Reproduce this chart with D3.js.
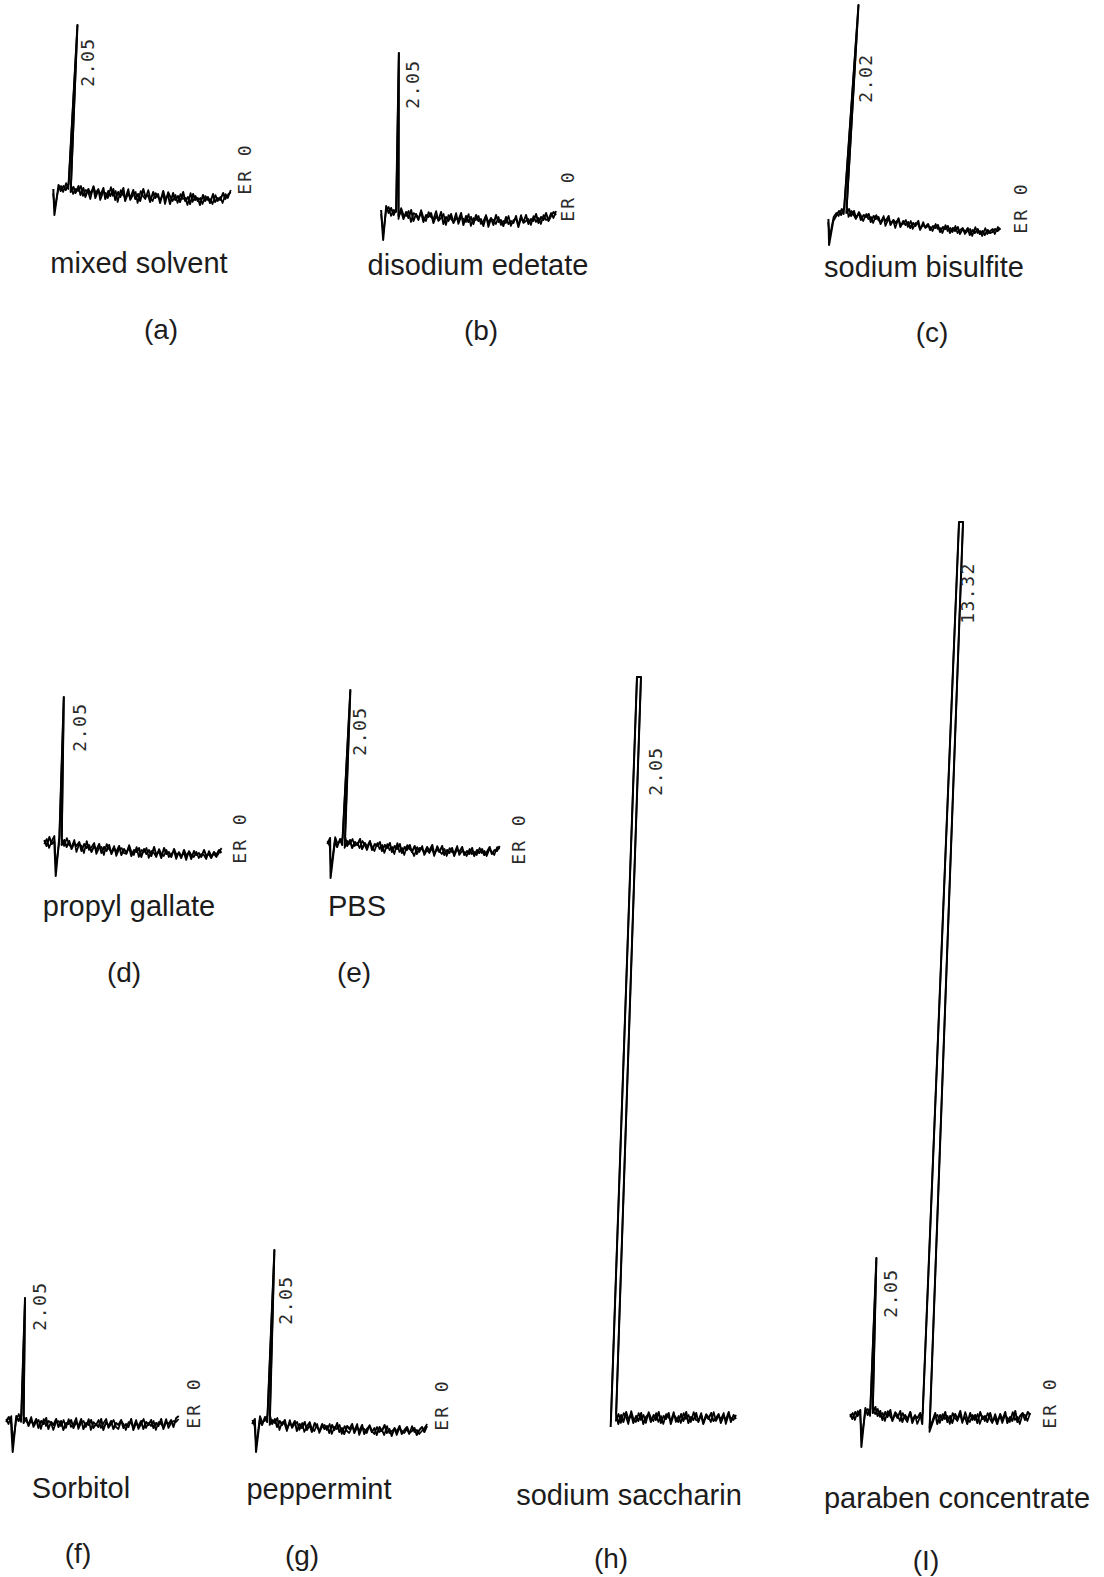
<!DOCTYPE html>
<html><head><meta charset="utf-8">
<script src="https://cdn.jsdelivr.net/npm/d3@7"></script>
<style>html,body{margin:0;padding:0;background:#fff}</style>
</head><body>
<svg id="chart" width="1104" height="1577"></svg>
<script>
// ---------- DATA ----------
const sampleNames = ["mixed solvent","disodium edetate","sodium bisulfite","propyl gallate","PBS","Sorbitol","peppermint","sodium saccharin","paraben concentrate"];
const panelLetters = ["(a)","(b)","(c)","(d)","(e)","(f)","(g)","(h)","(I)"];
const startTimes = [-1,-1,-1,-1,-1,-1,-1,1.5,-2];   // min
const timeStep = 0.5;                                 // min between baseline samples
const endLabel = "ER 0";
const hasEndLabel = [true,true,true,true,true,true,true,false,true];

// detector signal, run 1 (arbitrary units)
const baselineA = [6,-20,10,4,9,5,11,3,8,2, 9,0,7,-2,6,1,8,-3,5,0, 7,-4,4,-1,6,-5,3,-2,7,-6, 2,-3,5,-4,1,-6,6,-2,0,-7, 3,-3,1,-8,4,-4,0,-9,2,-5, -1,-7,3,-6,-2,-9,1,-5,-3,-10, 0,-6,-2,-8,1,-7,-3,-5,2,-4, 0,3];
const baselineB = [8,-22,12,5,10,3,9,2,7,-1, 6,0,8,-3,4,-1,6,-4,3,1, 5,-5,2,-2,6,-6,1,-3,4,-5, 0,-2,5,-7,2,-4,1,-6,3,-3, -1,-8,2,-5,0,-7,3,-4,-2,-8, 1,-6,-3,-5,2,-9,0,-4,3,-6, -1,-3,4,-5,1,-2,5,-3,2,6, 3];
const baselineC = [6,-20,4,9,14,10,18,12,16,9, 14,7,12,5,10,8,11,3,9,6, 8,1,7,4,9,0,5,2,6,-2, 4,0,3,-3,2,-1,4,-4,0,-2, 1,-5,-1,-3,0,-7,-2,-4,-1,-8, -3,-6,-2,-9,-4,-7,-3,-10,-5,-8, -4,-9,-6,-10,-5,-8,-7,-4,-6,-3];
const baselineD = [10,4,13,6,9,-26,14,5,10,3, 9,1,7,4,8,-1,6,2,5,-2, 4,0,6,-3,3,-1,5,-4,2,-2, 4,-5,1,-3,3,-6,0,-2,2,-7, 1,-4,0,-6,3,-5,-1,-8,2,-4, -2,-7,1,-5,-3,-8,0,-6,-2,-9, -1,-5,-3,-7,0,-6,-4,-8,-2,-5, 0,-3];
const baselineE = [6,12,-28,9,3,11,5,13,4,10, 2,8,5,11,1,7,3,9,0,6, 4,8,-1,5,2,7,-2,4,1,6, -3,3,0,5,-2,4,-4,2,1,-3, 3,-1,5,-4,1,-2,4,-5,0,-3, 2,-6,1,-2,3,-5,-1,-4,2,-6, 0,-3,1,-5,-2,3,-4,0,-1,4];
const baselineF = [3,8,2,-27,9,4,10,2,7,-1, 5,0,6,-3,4,1,7,-4,3,0, 6,-2,4,-5,2,1,5,-3,3,-1, 6,-4,2,0,5,-3,1,-2,6,-5, 3,-1,4,-4,2,0,5,-3,1,-2, 6,-5,2,-1,4,-4,3,0,5,-3, 2,-1,6,-4,3,1,5,-2,7,9];
const baselineG = [4,9,-24,8,3,11,6,12,4,9, 1,7,3,8,-1,5,2,7,-3,4, 0,6,-2,3,-4,5,1,-3,4,-1, 2,-5,3,-2,5,-4,0,-6,2,-1, 4,-5,1,-3,3,-6,-1,2,-4,0, -7,1,-3,3,-5,-1,-8,0,-4,2, -6,-2,1,-5,-3,0,-7,-2,1,-4, 2];
const baselineH = [-9,0,5,-6,3,-4,6,-2,4,-5, 2,-3,5,-6,1,4,-4,3,-2,6, -5,2,-1,5,-6,3,0,-4,4,-3, 6,-5,1,-2,5,-4,3,-6,2,-1, 5,-3,0,4,-5,2,-2,6,-4,3, -1];
const baselineI = [4,-1,6,2,8,-29,10,3,9,5, 11,2,7,-2,6,1,8,-3,4,0, 7,-4,3,-1,6,-5,2,0,5,-6, 0,0,-10,-3,5,-6,3,-2,6,-4, 2,-5,4,-1,7,-3,1,-6,5,-2, 3,-5,6,-1,2,-4,5,-3,0,-6, 4,-2,6,-5,1,-3,7,-4,2,5, -2,6,3];

// detector signal, run 2 (overlaid trace)
const replicateA = [2,-14,6,9,3,12,6,10,1,6, 4,9,-1,5,3,-4,9,2,6,-5, 3,2,-3,8,-1,4,-7,5,0,-3, 6,-5,0,3,-8,4,-1,-4,5,-3, -6,2,-2,-5,1,-9,3,-2,-6,0, -8,1,-4,-3,-10,2,-7,-1,-6,-3, -9,-1,-5,-4,-9,0,-6,-2,-8,1, -3,5];
const replicateB = [4,-16,8,11,2,8,6,-1,10,3, 2,7,-4,5,3,-2,8,0,-3,6, 1,-1,7,-3,0,4,-7,3,-1,-4, 5,-6,1,-1,-4,4,-8,0,-2,2, -6,-3,3,-9,-1,-2,-6,1,-7,-3, -5,2,-8,-2,-1,-7,3,-5,-3,-1, -7,2,-4,0,-6,3,-2,-1,5,0, 7];
const replicateC = [3,-12,8,12,9,16,11,19,8,14, 10,6,13,9,4,11,6,8,2,10, 5,3,9,-1,6,2,4,-3,7,0, 1,5,-2,4,-4,2,1,-5,3,-3, -1,-2,-6,1,-4,-3,-8,0,-6,-3, -7,-1,-8,-5,-3,-9,-6,-4,-11,-2, -8,-6,-11,-3,-9,-6,-4,-9,-2,-5];
const replicateD = [6,11,2,9,14,-18,8,11,4,12, 5,3,10,-2,6,4,-3,9,0,3, 7,-4,2,3,-5,6,1,-2,4,-6, 1,2,-3,-4,5,-2,-5,3,-7,0, -2,2,-8,-1,-3,-7,1,-4,-6,0, -7,-4,-1,-9,-2,-6,-3,-10,-1,-5, -7,-2,-8,-4,-5,-9,-1,-6,-4,-7, -3,2];
const replicateE = [9,4,-20,13,7,8,12,2,9,6, 11,4,7,2,9,5,0,8,3,-1, 7,1,5,-3,6,0,3,-4,7,-2, 2,-5,5,1,-1,-6,3,-2,4,-5, 0,-3,2,-6,4,-1,-4,1,-6,2, -2,-3,4,-5,-1,-2,-6,1,-4,-2, -5,2,-3,-1,-6,1,-2,-5,3,1];
const replicateF = [6,1,9,-18,5,11,3,8,4,1, 8,-2,3,5,-4,6,-1,4,2,-5, 3,4,-1,5,-3,6,-2,1,7,-4, 2,4,-2,6,-5,3,0,5,-3,2, 6,-3,1,5,-2,-4,4,1,-5,3, 2,-2,5,-4,1,6,-3,2,-1,4, -5,3,1,-2,6,-3,2,4,3,6];
const replicateG = [8,2,-18,12,6,7,13,3,8,5, 10,-2,6,4,-3,8,0,4,6,-2, 5,-4,2,6,-1,-3,4,-5,1,3, -2,4,-6,1,-1,3,-6,2,-3,-5, 1,-2,4,-7,0,-1,-5,3,-3,-6, 1,-4,-2,-7,2,-5,-3,-1,-7,0, -3,-5,-1,-6,2,-4,-2,-6,-3,0, 4];
const replicateH = [-4,0,-3,4,-5,5,1,-6,7,-1, -4,5,-2,3,-5,6,0,-3,5,-4, 2,-6,4,1,-3,6,-4,2,-5,5, -1,3,-4,6,-2,-3,5,-5,4,1, -4,6,-3,2,-1,5,-6,3,0,-2, 3];
const replicateI = [1,5,-2,7,3,-20,6,9,2,8, 4,9,1,5,-3,7,2,-2,6,3, -3,5,0,-4,6,-2,3,-6,1,4, 0,0,-14,-6,2,3,-5,4,-1,2, -6,5,0,-3,4,-5,6,-1,-4,3, -2,4,-6,2,-3,5,-1,-5,4,-3, 2,-5,3,0,-4,6,-2,1,-6,4, 3,-3,5];

const runs = [
  [baselineA, replicateA],[baselineB, replicateB],[baselineC, replicateC],
  [baselineD, replicateD],[baselineE, replicateE],[baselineF, replicateF],
  [baselineG, replicateG],[baselineH, replicateH],[baselineI, replicateI]
];

// peaks: retention time (min), height (signal units), half-width of flat top (min)
const peakTimes   = [[2.05],[2.05],[2.02],[2.05],[2.05],[2.05],[2.05],[2.05],[2.05,13.32]];
const peakHeights = [[170],[165],[220],[153],[160],[127],[178],[741],[160,896]];
const peakWidths  = [[0],[0],[0],[0],[0],[0],[0],[0.4],[0,0.4]];

// ---------- LAYOUT ----------
const pxPerMin = 5;
const layout = [
  {x0:53,  baseY:195,  skew:3.1, name:[139,263],  letter:[161,329],  pk:[[88,62]],              er:[245,169]},
  {x0:381, baseY:218,  skew:0.9, name:[478,265],  letter:[481,330],  pk:[[413,84]],             er:[568,196]},
  {x0:828, baseY:225,  skew:4.0, name:[924,267],  letter:[932,332],  pk:[[866,78]],             er:[1021,208]},
  {x0:44,  baseY:850,  skew:1.7, name:[129,906],  letter:[124,972],  pk:[[80,727]],             er:[240,838]},
  {x0:327, baseY:850,  skew:2.9, name:[357,906],  letter:[354,972],  pk:[[360,731]],            er:[519,839]},
  {x0:6,   baseY:1425, skew:1.7, name:[81,1488],  letter:[78,1553],  pk:[[40,1306]],            er:[194,1403]},
  {x0:252, baseY:1428, skew:2.3, name:[319,1489], letter:[302,1555], pk:[[286,1300]],           er:[442,1405]},
  {x0:611, baseY:1418, skew:1.95,name:[629,1495], letter:[611,1558], pk:[[656,771]],            er:null},
  {x0:850, baseY:1418, skew:2.2, name:[957,1498], letter:[926,1560], pk:[[891,1293],[968,593]], er:[1050,1403]}
];

const svg = d3.select("#chart");
svg.append("rect").attr("width",1104).attr("height",1577).attr("fill","#fff");

runs.forEach((pair, p) => {
  const L = layout[p];
  const t0 = startTimes[p];
  const n = pair[0].length;
  const tEnd = t0 + (n - 1) * timeStep;
  const x = d3.scaleLinear().domain([t0, tEnd]).range([L.x0, L.x0 + (tEnd - t0) * pxPerMin]);
  const y = d3.scaleLinear().domain([0, 100]).range([L.baseY, L.baseY - 100]);
  const line = d3.line().x(d => x(d.t)).y(d => y(d.v));
  const px = x(peakTimes[p][0]);
  const g = svg.append("g")
    .attr("transform", `translate(${px},${L.baseY}) skewX(${-L.skew}) translate(${-px},${-L.baseY})`);

  pair.forEach((vals, r) => {
    let pts = vals.map((v, i) => ({t: t0 + i * timeStep, v}));
    peakTimes[p].forEach((tp, k) => {
      const w = peakWidths[p][k], h = peakHeights[p][k];
      if (w > 0) {
        pts = pts.filter(d => Math.abs(d.t - tp) >= w);
        pts.push({t: tp - w, v: h}, {t: tp + w, v: h});
      } else {
        pts.push({t: tp, v: h});
      }
    });
    pts.sort((a, b) => a.t - b.t);
    g.append("path").datum(pts)
      .attr("d", line)
      .attr("fill", "none")
      .attr("stroke", "#000")
      .attr("stroke-width", r === 0 ? 2 : 1.7)
      .attr("stroke-linejoin", "round");
  });

  // peak retention-time labels
  peakTimes[p].forEach((tp, k) => {
    const c = L.pk[k];
    svg.append("text")
      .attr("transform", `translate(${c[0]},${c[1]}) rotate(-90)`)
      .attr("text-anchor", "middle").attr("dy", "0.35em")
      .attr("font-family", "DejaVu Sans Mono").attr("font-size", 18)
      .attr("letter-spacing", "1.5px").attr("fill", "#2a2a2a")
      .text(tp.toFixed(2));
  });

  if (hasEndLabel[p] && L.er) {
    svg.append("text")
      .attr("transform", `translate(${L.er[0]},${L.er[1]}) rotate(-90)`)
      .attr("text-anchor", "middle").attr("dy", "0.35em")
      .attr("font-family", "DejaVu Sans Mono").attr("font-size", 18)
      .attr("letter-spacing", "2px").attr("fill", "#2a2a2a")
      .text(endLabel);
  }

  svg.append("text")
    .attr("x", L.name[0]).attr("y", L.name[1])
    .attr("text-anchor", "middle").attr("dominant-baseline", "central")
    .attr("font-family", "Liberation Sans, Arial, sans-serif").attr("font-size", 29)
    .attr("fill", "#1c1c1c")
    .text(sampleNames[p]);

  svg.append("text")
    .attr("x", L.letter[0]).attr("y", L.letter[1])
    .attr("text-anchor", "middle").attr("dominant-baseline", "central")
    .attr("font-family", "Liberation Sans, Arial, sans-serif").attr("font-size", 28)
    .attr("fill", "#1c1c1c")
    .text(panelLetters[p]);
});
</script>
</body></html>
